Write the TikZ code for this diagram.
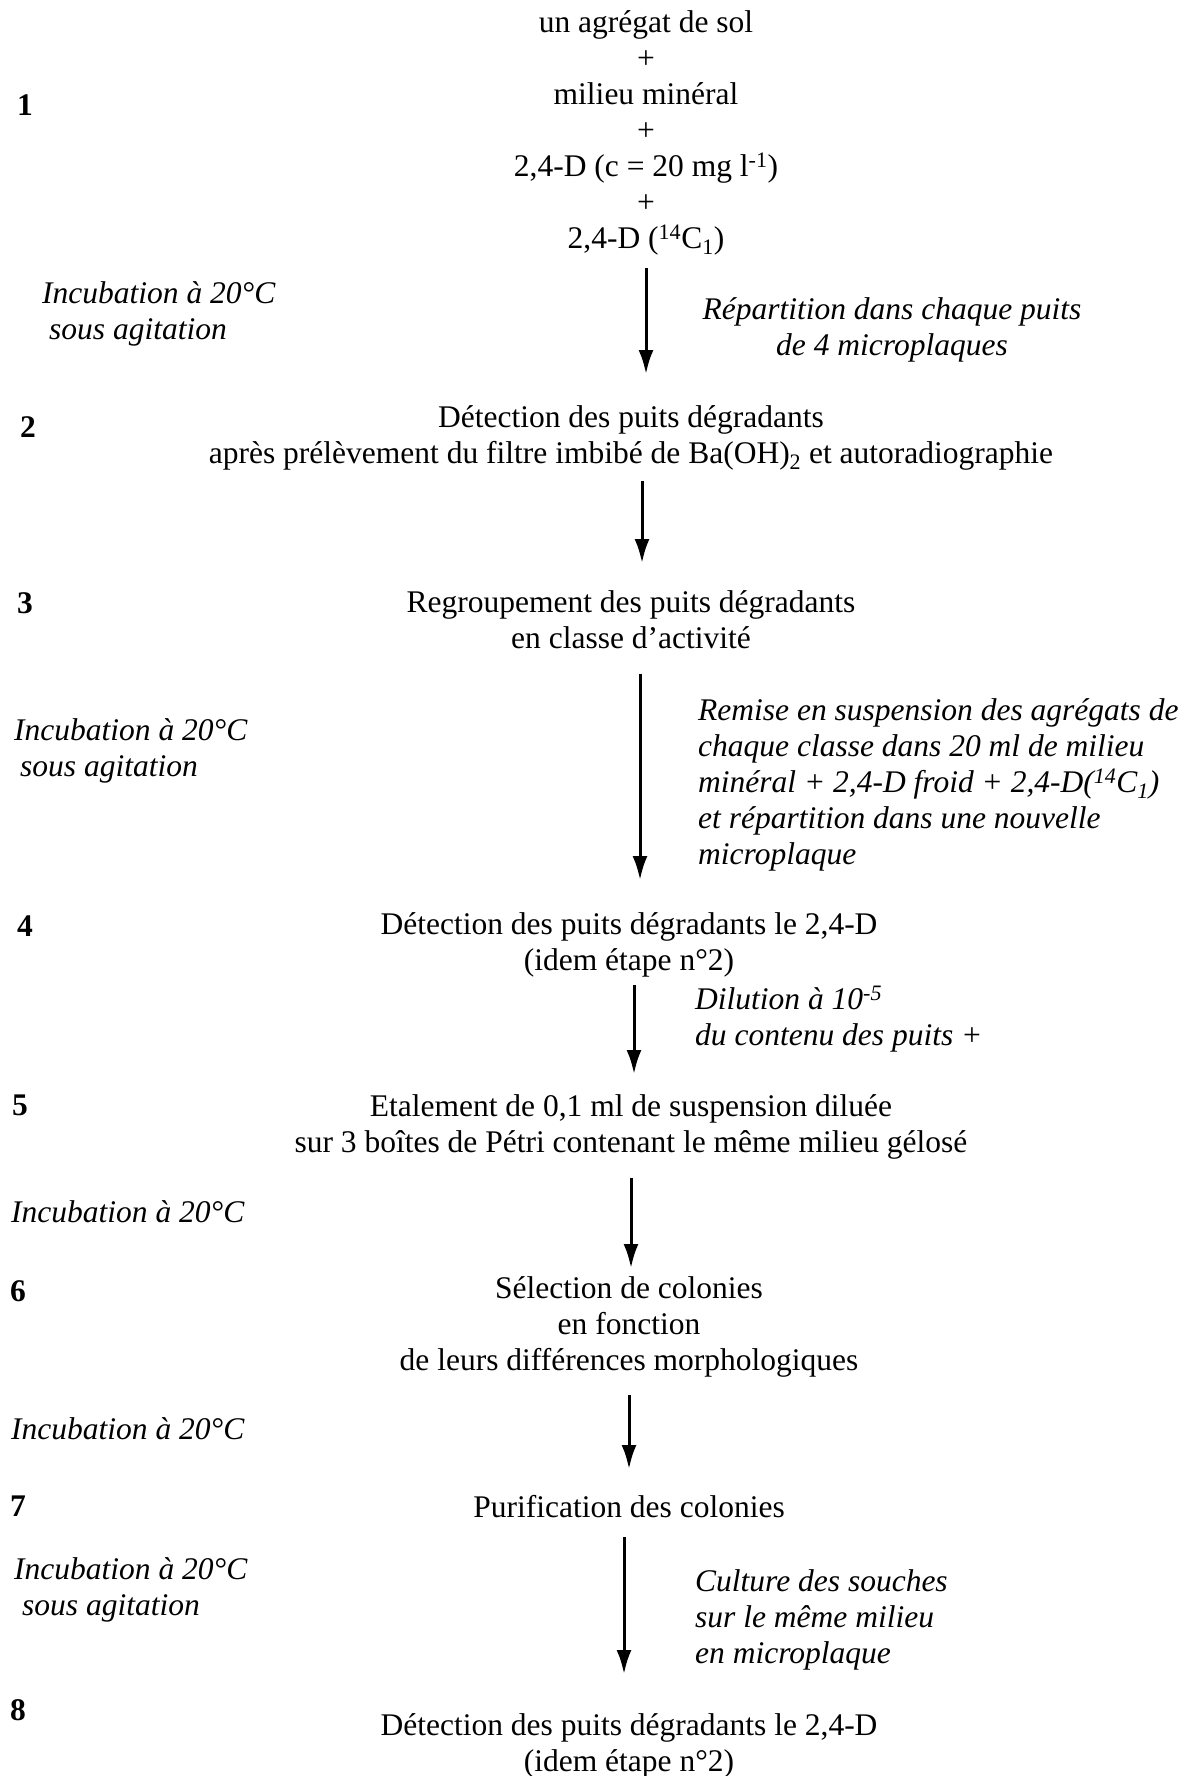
\documentclass[tikz,border=0pt]{standalone}
\usepackage{fontspec}
\setmainfont{Liberation Serif}
\usetikzlibrary{arrows.meta}
\tikzset{
  main/.style={align=center, font=\fontsize{31.5}{36}\selectfont, inner sep=0pt},
  side/.style={align=left, anchor=west, font=\fontsize{31.5}{36}\selectfont\itshape, inner sep=0pt},
  sidec/.style={align=center, font=\fontsize{31.5}{36}\selectfont\itshape, inner sep=0pt},
  num/.style={font=\fontsize{31.5}{36}\selectfont\bfseries, inner sep=0pt},
  flow/.style={line width=3pt, -{Latex[length=24pt,width=15pt]}}
}
\begin{document}
\begin{tikzpicture}[x=1pt,y=-1pt]
\useasboundingbox (0,0) rectangle (1187,1776);
% step 1
\node[main] (b1) at (646,133) {un agrégat de sol\\+\\milieu minéral\\+\\2,4-D (c = 20 mg l\textsuperscript{-1})\\+\\2,4-D (\textsuperscript{14}C\textsubscript{1})};
\node[num] (n1) at (25,105) {1};
\node[side] (l1) at (42,314) {Incubation à 20°C\\\hspace*{7pt}sous agitation};
\node[sidec] (r1) at (892,330) {Répartition dans chaque puits\\de 4 microplaques};
\coordinate (a1s) at (646,268);
\coordinate (a1e) at (646,374);
\draw[flow] (a1s) -- (a1e);
% step 2
\node[num] (n2) at (28,427) {2};
\node[main] (b2) at (631,438) {Détection des puits dégradants\\après prélèvement du filtre imbibé de Ba(OH)\textsubscript{2} et autoradiographie};
\coordinate (a2s) at (642,481);
\coordinate (a2e) at (642,563);
\draw[flow] (a2s) -- (a2e);
% step 3
\node[num] (n3) at (25,603) {3};
\node[main] (b3) at (631,619.5) {Regroupement des puits dégradants\\en classe d'activité};
\coordinate (a3s) at (640,674);
\coordinate (a3e) at (640,880);
\draw[flow] (a3s) -- (a3e);
\node[side] (l3) at (14,751) {Incubation à 20°C\\\hspace*{6pt}sous agitation};
\node[side] (r3) at (698,785) {Remise en suspension des agrégats de\\chaque classe dans 20 ml de milieu\\minéral + 2,4-D froid + 2,4-D(\textsuperscript{14}C\textsubscript{1})\\et répartition dans une nouvelle\\microplaque};
% step 4
\node[num] (n4) at (25,926) {4};
\node[main] (b4) at (629,945) {Détection des puits dégradants le 2,4-D\\(idem étape n°2)};
\coordinate (a4s) at (634,985);
\coordinate (a4e) at (634,1074);
\draw[flow] (a4s) -- (a4e);
\node[side] (r4) at (695,1019) {Dilution à 10\textsuperscript{-5}\\du contenu des puits +};
% step 5
\node[num] (n5) at (20,1105) {5};
\node[main] (b5) at (631,1127) {Etalement de 0,1 ml de suspension diluée\\sur 3 boîtes de Pétri contenant le même milieu gélosé};
\coordinate (a5s) at (631,1178);
\coordinate (a5e) at (631,1268);
\draw[flow] (a5s) -- (a5e);
\node[side] (l5) at (11,1212) {Incubation à 20°C};
% step 6
\node[num] (n6) at (18,1291) {6};
\node[main] (b6) at (629,1327) {Sélection de colonies\\en fonction\\de leurs différences morphologiques};
\coordinate (a6s) at (629,1395);
\coordinate (a6e) at (629,1469);
\draw[flow] (a6s) -- (a6e);
\node[side] (l6) at (11,1429) {Incubation à 20°C};
% step 7
\node[num] (n7) at (18,1506) {7};
\node[main] (b7) at (629,1507) {Purification des colonies};
\coordinate (a7s) at (624,1537);
\coordinate (a7e) at (624,1674);
\draw[flow] (a7s) -- (a7e);
\node[side] (l7) at (14,1590) {Incubation à 20°C\\\hspace*{8pt}sous agitation};
\node[side] (r7) at (695,1620) {Culture des souches\\sur le même milieu\\en microplaque};
% step 8
\node[num] (n8) at (18,1710) {8};
\node[main] (b8) at (629,1746) {Détection des puits dégradants le 2,4-D\\(idem étape n°2)};
\end{tikzpicture}
\end{document}
